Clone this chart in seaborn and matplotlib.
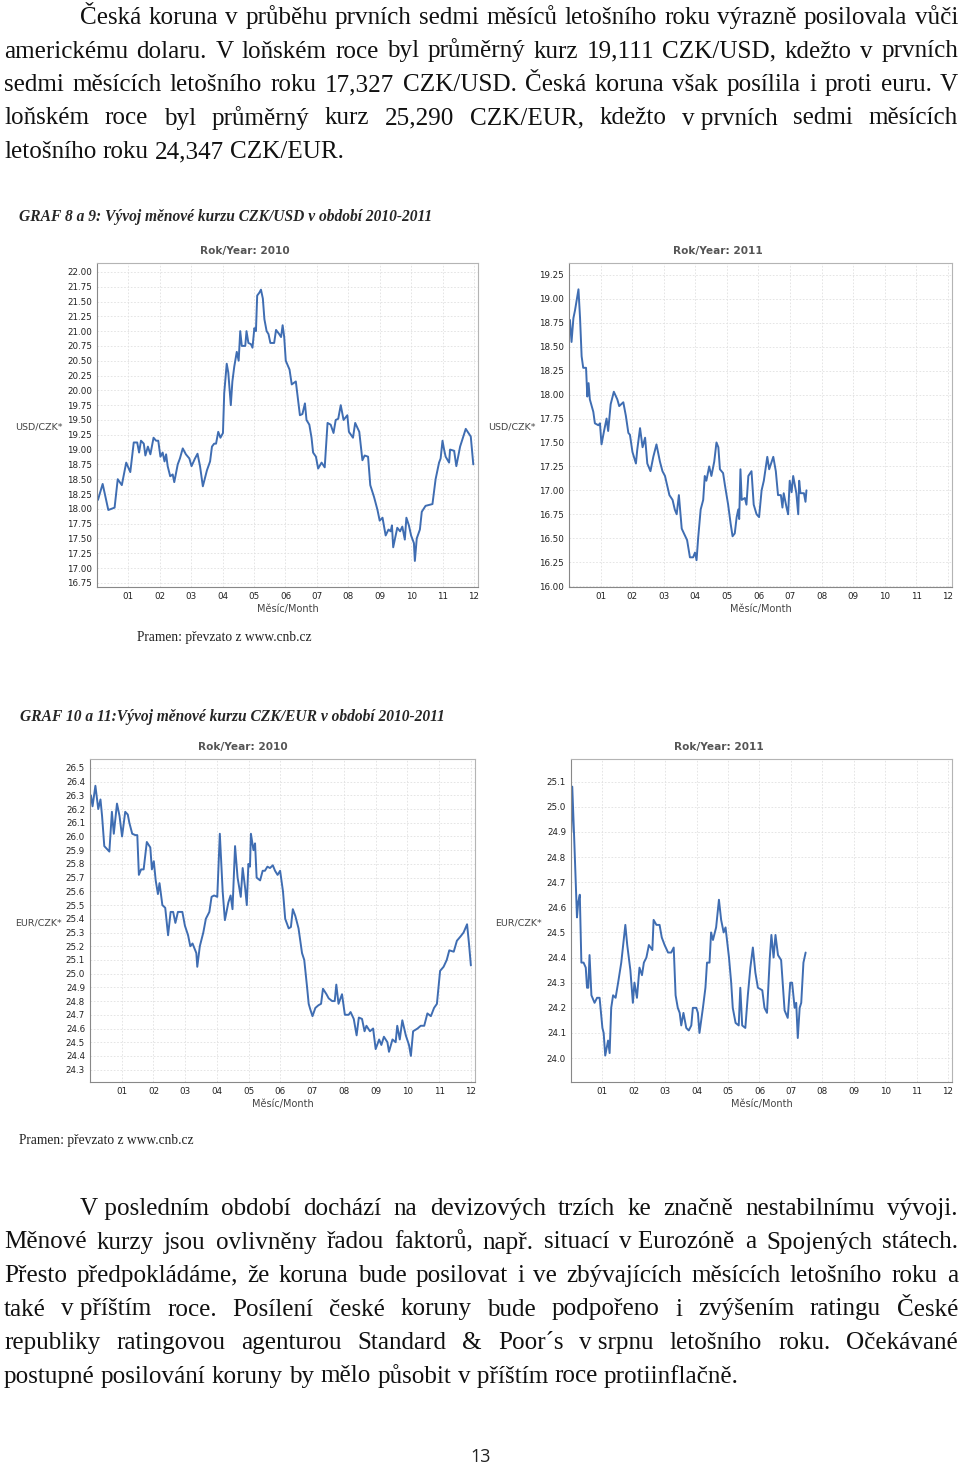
import numpy as np
import pandas as pd
import matplotlib
matplotlib.use("Agg")
import matplotlib.pyplot as plt
import seaborn as sns

# Data (month position 0-12, exchange rate)
usd_2010 = [
    (0.03, 18.15), (0.18, 18.42), (0.36, 17.98), (0.56, 18.02), (0.66, 18.50), (0.79, 18.40),
    (0.93, 18.78), (1.06, 18.62), (1.17, 19.12), (1.28, 19.12), (1.34, 18.95), (1.40, 19.15),
    (1.49, 19.10), (1.54, 18.90), (1.62, 19.05), (1.70, 18.92), (1.80, 19.20), (1.88, 19.15),
    (1.95, 19.15), (2.02, 18.88), (2.09, 18.95), (2.15, 18.80), (2.20, 18.92), (2.25, 18.72),
    (2.33, 18.55), (2.41, 18.58), (2.46, 18.45), (2.57, 18.75), (2.64, 18.85), (2.73, 19.02),
    (2.83, 18.92), (2.94, 18.85), (3.01, 18.72), (3.12, 18.85), (3.20, 18.93), (3.28, 18.72),
    (3.37, 18.38), (3.50, 18.65), (3.60, 18.80), (3.66, 19.05), (3.73, 19.10), (3.79, 19.10),
    (3.86, 19.30), (3.93, 19.20), (4.01, 19.28), (4.05, 19.95), (4.13, 20.45), (4.18, 20.30),
    (4.26, 19.75), (4.31, 20.15), (4.37, 20.40), (4.45, 20.65), (4.51, 20.50), (4.56, 21.00),
    (4.61, 20.75), (4.72, 20.75), (4.76, 21.00), (4.82, 20.80), (4.90, 20.78), (4.95, 20.72),
    (5.01, 21.05), (5.06, 21.00), (5.10, 21.60), (5.17, 21.65), (5.22, 21.70), (5.28, 21.55),
    (5.33, 21.20), (5.40, 21.00), (5.46, 20.95), (5.52, 20.80), (5.64, 20.80), (5.70, 21.02),
    (5.80, 20.95), (5.86, 20.90), (5.91, 21.10), (5.96, 20.90), (6.01, 20.50), (6.13, 20.35),
    (6.20, 20.10), (6.33, 20.15), (6.46, 19.58), (6.54, 19.60), (6.62, 19.78), (6.67, 19.50),
    (6.76, 19.42), (6.83, 19.20), (6.88, 18.95), (6.97, 18.88), (7.04, 18.68), (7.15, 18.78),
    (7.25, 18.70), (7.34, 19.45), (7.44, 19.42), (7.53, 19.28), (7.60, 19.50), (7.68, 19.52),
    (7.76, 19.75), (7.85, 19.50), (7.97, 19.58), (8.02, 19.30), (8.15, 19.20), (8.22, 19.45),
    (8.35, 19.30), (8.45, 18.82), (8.52, 18.90), (8.63, 18.88), (8.70, 18.40), (8.82, 18.20),
    (8.93, 17.98), (9.00, 17.80), (9.09, 17.85), (9.19, 17.55), (9.28, 17.65), (9.35, 17.62),
    (9.39, 17.72), (9.43, 17.35), (9.56, 17.68), (9.65, 17.62), (9.72, 17.70), (9.80, 17.48),
    (9.85, 17.85), (9.93, 17.72), (10.00, 17.55), (10.09, 17.42), (10.12, 17.12), (10.18, 17.50),
    (10.28, 17.65), (10.34, 17.95), (10.46, 18.05), (10.68, 18.08), (10.78, 18.50), (10.89, 18.78),
    (10.94, 18.85), (11.00, 19.15), (11.05, 19.00), (11.10, 18.88), (11.21, 18.78), (11.24, 19.00),
    (11.37, 18.98), (11.44, 18.72), (11.56, 19.05), (11.66, 19.22), (11.74, 19.35), (11.90, 19.22),
    (11.98, 18.75),
]
usd_2011 = [
    (0.03, 18.78), (0.08, 18.55), (0.14, 18.80), (0.19, 18.88), (0.30, 19.10), (0.35, 18.80),
    (0.40, 18.40), (0.45, 18.28), (0.54, 18.28), (0.58, 17.98), (0.62, 18.12), (0.66, 17.95),
    (0.77, 17.82), (0.82, 17.70), (0.93, 17.68), (0.98, 17.70), (1.03, 17.48), (1.11, 17.62),
    (1.19, 17.75), (1.24, 17.62), (1.32, 17.90), (1.42, 18.03), (1.53, 17.95), (1.59, 17.88),
    (1.72, 17.92), (1.80, 17.78), (1.88, 17.60), (1.93, 17.58), (2.01, 17.40), (2.12, 17.28),
    (2.16, 17.42), (2.25, 17.65), (2.33, 17.45), (2.41, 17.55), (2.48, 17.28), (2.58, 17.20),
    (2.67, 17.35), (2.77, 17.48), (2.88, 17.30), (2.96, 17.20), (3.04, 17.15), (3.11, 17.05),
    (3.18, 16.95), (3.28, 16.90), (3.35, 16.80), (3.41, 16.75), (3.48, 16.95), (3.57, 16.60),
    (3.64, 16.55), (3.74, 16.48), (3.83, 16.30), (3.93, 16.30), (3.99, 16.35), (4.04, 16.27),
    (4.09, 16.50), (4.17, 16.80), (4.25, 16.90), (4.30, 17.15), (4.35, 17.10), (4.44, 17.25),
    (4.51, 17.15), (4.60, 17.30), (4.67, 17.50), (4.73, 17.45), (4.78, 17.22), (4.88, 17.18),
    (4.94, 17.05), (5.04, 16.85), (5.12, 16.65), (5.18, 16.52), (5.25, 16.55), (5.31, 16.72),
    (5.36, 16.80), (5.39, 16.70), (5.43, 17.22), (5.47, 16.90), (5.57, 16.92), (5.62, 16.85),
    (5.68, 17.15), (5.78, 17.20), (5.85, 16.85), (5.94, 16.75), (6.02, 16.72), (6.10, 17.00),
    (6.17, 17.10), (6.28, 17.35), (6.34, 17.22), (6.47, 17.35), (6.55, 17.20), (6.62, 16.95),
    (6.71, 16.95), (6.76, 16.82), (6.80, 16.97), (6.89, 16.82), (6.94, 16.75), (6.99, 17.10),
    (7.05, 16.98), (7.10, 17.15), (7.20, 16.97), (7.26, 16.75), (7.29, 17.10), (7.33, 16.97),
    (7.44, 16.97), (7.49, 16.88), (7.52, 17.00),
]
eur_2010 = [
    (0.03, 26.30), (0.08, 26.22), (0.17, 26.37), (0.26, 26.20), (0.33, 26.27), (0.38, 26.15),
    (0.45, 25.93), (0.53, 25.91), (0.61, 25.89), (0.69, 26.18), (0.75, 26.02), (0.85, 26.24),
    (0.93, 26.15), (1.01, 26.00), (1.11, 26.18), (1.19, 26.16), (1.24, 26.10), (1.33, 26.02),
    (1.43, 26.01), (1.49, 26.01), (1.54, 25.72), (1.61, 25.76), (1.69, 25.76), (1.79, 25.96),
    (1.90, 25.92), (1.95, 25.76), (2.01, 25.82), (2.07, 25.68), (2.14, 25.58), (2.19, 25.66),
    (2.28, 25.50), (2.37, 25.48), (2.46, 25.28), (2.54, 25.45), (2.62, 25.45), (2.69, 25.37),
    (2.77, 25.45), (2.91, 25.45), (2.99, 25.35), (3.09, 25.28), (3.16, 25.20), (3.23, 25.22),
    (3.35, 25.15), (3.38, 25.05), (3.46, 25.20), (3.57, 25.30), (3.65, 25.40), (3.76, 25.45),
    (3.83, 25.56), (3.91, 25.57), (4.01, 25.56), (4.09, 26.02), (4.18, 25.60), (4.25, 25.39),
    (4.36, 25.52), (4.43, 25.57), (4.49, 25.47), (4.57, 25.93), (4.65, 25.70), (4.75, 25.56),
    (4.81, 25.77), (4.89, 25.62), (4.94, 25.50), (4.99, 25.80), (5.04, 25.78), (5.07, 26.02),
    (5.15, 25.90), (5.20, 25.95), (5.25, 25.70), (5.36, 25.68), (5.44, 25.75), (5.51, 25.75),
    (5.59, 25.78), (5.67, 25.77), (5.76, 25.79), (5.83, 25.75), (5.91, 25.72), (5.99, 25.75),
    (6.08, 25.60), (6.15, 25.40), (6.26, 25.33), (6.33, 25.34), (6.39, 25.47), (6.47, 25.42),
    (6.57, 25.33), (6.68, 25.15), (6.75, 25.10), (6.84, 24.90), (6.89, 24.78), (6.94, 24.74),
    (7.01, 24.69), (7.10, 24.75), (7.20, 24.77), (7.28, 24.78), (7.34, 24.89), (7.45, 24.85),
    (7.52, 24.82), (7.63, 24.80), (7.71, 24.80), (7.76, 24.92), (7.83, 24.78), (7.94, 24.85),
    (8.03, 24.70), (8.15, 24.70), (8.21, 24.72), (8.31, 24.67), (8.40, 24.55), (8.47, 24.68),
    (8.57, 24.67), (8.65, 24.58), (8.71, 24.62), (8.82, 24.58), (8.92, 24.60), (9.00, 24.45),
    (9.11, 24.52), (9.18, 24.48), (9.26, 24.54), (9.37, 24.50), (9.42, 24.43), (9.53, 24.52),
    (9.63, 24.50), (9.68, 24.62), (9.76, 24.52), (9.84, 24.66), (9.95, 24.55), (10.05, 24.48),
    (10.11, 24.40), (10.18, 24.58), (10.32, 24.60), (10.42, 24.62), (10.53, 24.62), (10.63, 24.71),
    (10.74, 24.69), (10.84, 24.75), (10.93, 24.78), (11.03, 25.02), (11.14, 25.05), (11.24, 25.10),
    (11.32, 25.17), (11.46, 25.16), (11.56, 25.24), (11.67, 25.27), (11.77, 25.30), (11.88, 25.36),
    (11.94, 25.22), (12.00, 25.06),
]
eur_2011 = [
    (0.01, 24.90), (0.04, 25.08), (0.10, 24.88), (0.19, 24.56), (0.23, 24.62), (0.28, 24.65),
    (0.33, 24.38), (0.40, 24.38), (0.47, 24.36), (0.51, 24.28), (0.55, 24.28), (0.59, 24.41),
    (0.65, 24.25), (0.75, 24.22), (0.83, 24.24), (0.91, 24.24), (1.00, 24.12), (1.04, 24.10),
    (1.09, 24.01), (1.18, 24.07), (1.23, 24.02), (1.28, 24.20), (1.34, 24.25), (1.42, 24.24),
    (1.50, 24.30), (1.60, 24.38), (1.73, 24.53), (1.79, 24.45), (1.89, 24.35), (1.97, 24.22),
    (2.02, 24.30), (2.10, 24.24), (2.18, 24.36), (2.26, 24.33), (2.32, 24.38), (2.40, 24.40),
    (2.48, 24.45), (2.59, 24.43), (2.63, 24.55), (2.72, 24.53), (2.82, 24.53), (2.89, 24.48),
    (2.98, 24.45), (3.09, 24.42), (3.19, 24.42), (3.27, 24.44), (3.33, 24.25), (3.40, 24.20),
    (3.46, 24.18), (3.51, 24.13), (3.58, 24.18), (3.67, 24.12), (3.75, 24.11), (3.83, 24.13),
    (3.88, 24.20), (3.99, 24.20), (4.04, 24.18), (4.09, 24.10), (4.20, 24.20), (4.28, 24.28),
    (4.33, 24.38), (4.41, 24.38), (4.46, 24.50), (4.52, 24.47), (4.62, 24.52), (4.71, 24.63),
    (4.78, 24.55), (4.86, 24.50), (4.92, 24.52), (5.03, 24.40), (5.10, 24.30), (5.15, 24.20),
    (5.24, 24.14), (5.34, 24.13), (5.39, 24.28), (5.45, 24.13), (5.55, 24.12), (5.63, 24.25),
    (5.71, 24.36), (5.79, 24.44), (5.87, 24.34), (5.95, 24.28), (6.09, 24.27), (6.16, 24.20),
    (6.24, 24.18), (6.33, 24.40), (6.38, 24.49), (6.45, 24.40), (6.51, 24.49), (6.59, 24.41),
    (6.69, 24.39), (6.80, 24.19), (6.90, 24.16), (6.98, 24.30), (7.04, 24.30), (7.12, 24.20),
    (7.17, 24.22), (7.22, 24.08), (7.28, 24.20), (7.33, 24.22), (7.40, 24.38), (7.47, 24.42),
]
month_labels = ["01", "02", "03", "04", "05", "06", "07", "08", "09", "10", "11", "12"]

para1 = [
    "Česká koruna v průběhu prvních sedmi měsíců letošního roku výrazně posilovala vůči",
    "americkému dolaru. V loňském roce byl průměrný kurz 19,111 CZK/USD, kdežto v prvních",
    "sedmi měsících letošního roku 17,327 CZK/USD. Česká koruna však posílila i proti euru. V",
    "loňském roce byl průměrný kurz 25,290 CZK/EUR, kdežto v\u00a0prvních sedmi měsících",
    "letošního roku 24,347 CZK/EUR.",
]
para2 = [
    "V\u00a0posledním období dochází na devizových trzích ke značně nestabilnímu vývoji.",
    "Měnové kurzy jsou ovlivněny řadou faktorů, např. situací v\u00a0Eurozóně a Spojených státech.",
    "Přesto předpokládáme, že koruna bude posilovat i ve zbývajících měsících letošního roku a",
    "také v\u00a0příštím roce. Posílení české koruny bude podpořeno i zvýšením ratingu České",
    "republiky ratingovou agenturou Standard & Poor´s v\u00a0srpnu letošního roku. Očekávané",
    "postupné posilování koruny by mělo působit v\u00a0příštím roce protiinflačně.",
]

W, H = 960, 1466
LINE = "#3f6db2"
SERIF = ["Liberation Serif", "DejaVu Serif"]
BODY = 18.1

sns.set_style("white")
plt.rcParams["font.family"] = ["DejaVu Sans"]

fig = plt.figure(figsize=(W / 100, H / 100), dpi=100, facecolor="white")
renderer = fig.canvas.get_renderer()


def fx(x):
    return x / W


def fy(y):
    return 1 - y / H


def text_line(line, y, x0, x1, size, justify):
    words = line.split(" ")
    objs = [fig.text(0, 0, w, fontsize=size, family=SERIF, color="#111", va="baseline") for w in words]
    widths = [o.get_window_extent(renderer).width for o in objs]
    if justify and len(words) > 1:
        gap = (x1 - x0 - sum(widths)) / (len(words) - 1)
    else:
        sp = fig.text(0, 0, "a a", fontsize=size, family=SERIF)
        sp2 = fig.text(0, 0, "aa", fontsize=size, family=SERIF)
        gap = sp.get_window_extent(renderer).width - sp2.get_window_extent(renderer).width
        sp.remove()
        sp2.remove()
    x = x0
    for o, w in zip(objs, widths):
        o.set_position((fx(x), fy(y)))
        x += w + gap


def paragraph(lines, y0, step, size):
    for i, line in enumerate(lines):
        x0 = 80 if i == 0 else 4
        text_line(line, y0 + i * step, x0, 958, size, i < len(lines) - 1)


def chart(pts, box, ylim, yticks, fmt, title, title_x, ylabel, ylab_x):
    l, t, r, b = box
    ax = fig.add_axes([fx(l), fy(b), fx(r - l), (b - t) / H])
    df = pd.DataFrame(pts, columns=["month", "rate"])
    sns.lineplot(data=df, x="month", y="rate", ax=ax, color=LINE, linewidth=1.4,
                 estimator=None, sort=False)
    ax.set_xlim(0, 12.13)
    ax.set_ylim(*ylim)
    ax.set_xticks(range(1, 13))
    ax.set_xticklabels(month_labels)
    ax.set_yticks(yticks)
    ax.set_yticklabels([fmt % v for v in yticks])
    ax.set_xlabel("")
    ax.set_ylabel("")
    ax.grid(True, color="#e0e0e0", linestyle=(0, (2, 2)), linewidth=0.6)
    ax.tick_params(axis="both", length=2, width=0.6, pad=1.5, labelsize=6.3,
                   colors="#222", direction="out")
    ax.tick_params(axis="both", color="#888")
    for s in ax.spines.values():
        s.set_color("#b4b4b4")
        s.set_linewidth(0.8)
    ax.spines["left"].set_color("#888")
    ax.spines["bottom"].set_color("#888")
    fig.text(fx(title_x), fy(t - 12), title, ha="center", va="center", fontsize=7.6,
             fontweight="bold", color="#555")
    fig.text(fx((l + r) / 2), fy(b + 22), "Měsíc/Month", ha="center", va="center",
             fontsize=7, color="#444")
    fig.text(fx(ylab_x), fy((t + b) / 2 + 2), ylabel, ha="left", va="center",
             fontsize=6.8, color="#444")
    return ax


usd_ticks10 = np.round(np.arange(16.75, 22.01, 0.25), 2)
usd_ticks11 = np.round(np.arange(16.0, 19.26, 0.25), 2)
eur_ticks10 = np.round(np.arange(24.3, 26.51, 0.1), 1)
eur_ticks11 = np.round(np.arange(24.0, 25.11, 0.1), 1)

chart(usd_2010, (97, 263, 478, 587), (16.68, 22.15), usd_ticks10, "%.2f",
      "Rok/Year: 2010", 245, "USD/CZK*", 15)
chart(usd_2011, (569, 263, 952, 587), (15.99, 19.375), usd_ticks11, "%.2f",
      "Rok/Year: 2011", 718, "USD/CZK*", 488)
chart(eur_2010, (90, 759, 475, 1082), (24.21, 26.565), eur_ticks10, "%.1f",
      "Rok/Year: 2010", 243, "EUR/CZK*", 15)
chart(eur_2011, (571, 759, 952, 1082), (23.905, 25.19), eur_ticks11, "%.1f",
      "Rok/Year: 2011", 719, "EUR/CZK*", 495)

paragraph(para1, 24, 33.5, BODY)
paragraph(para2, 1215, 33.5, BODY)

fig.text(fx(19), fy(221), "GRAF 8 a 9: Vývoj měnové kurzu CZK/USD v období 2010-2011",
         family=SERIF, fontsize=11.2, fontweight="bold", style="italic", va="baseline")
fig.text(fx(20), fy(721), "GRAF 10 a 11:Vývoj měnové kurzu CZK/EUR v období 2010-2011",
         family=SERIF, fontsize=11.2, fontweight="bold", style="italic", va="baseline")
fig.text(fx(137), fy(641), "Pramen: převzato z www.cnb.cz", family=SERIF, fontsize=9.75,
         color="#222", va="baseline")
fig.text(fx(19), fy(1144), "Pramen: převzato z www.cnb.cz", family=SERIF, fontsize=9.75,
         color="#222", va="baseline")
fig.text(fx(481), fy(1457), "13", family=["Open Sans", "DejaVu Sans"], fontsize=13,
         ha="center", va="center", color="#222")

fig.savefig("out.png", dpi=100, facecolor="white")
